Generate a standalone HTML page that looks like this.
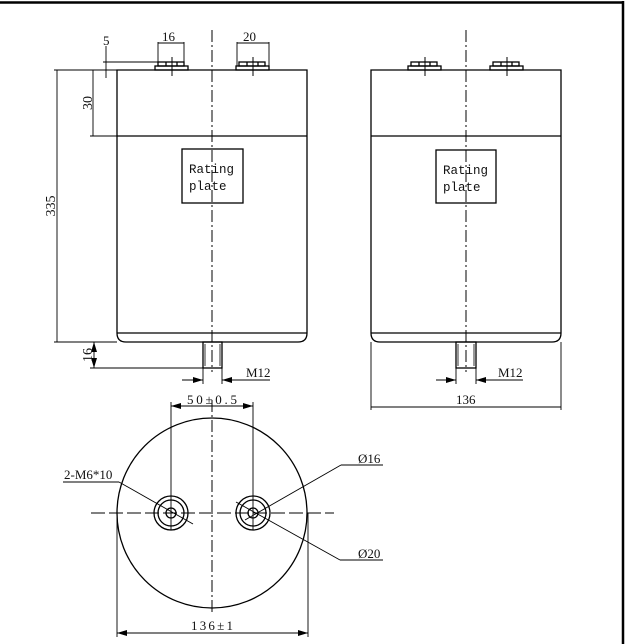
<!DOCTYPE html>
<html><head><meta charset="utf-8"><style>
html,body{margin:0;padding:0;background:#fff;}
svg{display:block;}
text{font-family:"Liberation Serif",serif;fill:#111;}
.m{font-family:"Liberation Mono",monospace;}
</style></head><body>
<svg width="628" height="644" viewBox="0 0 628 644" xmlns="http://www.w3.org/2000/svg">
<defs>
<marker id="a" viewBox="0 0 10 6" refX="10" refY="3" markerWidth="10" markerHeight="6" orient="auto-start-reverse" markerUnits="userSpaceOnUse"><path d="M0,0 L10,3 L0,6 z" fill="#000"/></marker>
</defs>
<line x1="0" y1="2.5" x2="624" y2="2.5" stroke="#000" stroke-width="2.5"/>
<line x1="623" y1="1" x2="623" y2="644" stroke="#000" stroke-width="2.5"/>

<g fill="none" stroke="#000" stroke-width="1.3">
<path d="M117,70 H307 V333 Q307,342 298,342 H126 Q117,342 117,333 Z"/>
<line x1="117" y1="136" x2="307" y2="136"/>
<line x1="117" y1="333" x2="307" y2="333"/>
<rect x="182" y="149" width="61" height="54"/>
<g><rect x="155" y="66" width="33" height="4"/><rect x="158" y="62" width="26" height="4"/><line x1="166" y1="62" x2="166" y2="66"/><line x1="177" y1="62" x2="177" y2="66"/></g>
<g transform="translate(81,0)"><rect x="155" y="66" width="33" height="4"/><rect x="158" y="62" width="26" height="4"/><line x1="166" y1="62" x2="166" y2="66"/><line x1="177" y1="62" x2="177" y2="66"/></g>
<line x1="172" y1="57" x2="172" y2="76" stroke-width="1"/>
<line x1="253" y1="57" x2="253" y2="76" stroke-width="1"/>
<rect x="203" y="342" width="19" height="26"/>
<line x1="205" y1="344" x2="205" y2="366" stroke-width="0.8"/><line x1="220" y1="344" x2="220" y2="366" stroke-width="0.8"/>
<line x1="212" y1="30" x2="212" y2="372" stroke-width="1" stroke-dasharray="12,3,2,3"/>
<g stroke-width="0.9">
<line x1="54" y1="70" x2="117" y2="70"/>
<line x1="54" y1="342" x2="117" y2="342"/>
<line x1="57" y1="70" x2="57" y2="342"/>
<line x1="90" y1="136" x2="117" y2="136"/>
<line x1="93" y1="70" x2="93" y2="136"/>
<line x1="90" y1="368" x2="203" y2="368"/>
<line x1="94" y1="342" x2="94" y2="368" marker-start="url(#a)" marker-end="url(#a)"/>
<line x1="106" y1="46" x2="106" y2="78"/>
<line x1="103" y1="62" x2="158" y2="62"/>
<line x1="158" y1="42" x2="158" y2="62"/><line x1="184" y1="42" x2="184" y2="62"/>
<line x1="158" y1="43" x2="184" y2="43"/>
<line x1="237" y1="42" x2="237" y2="66"/><line x1="269" y1="42" x2="269" y2="66"/>
<line x1="237" y1="43" x2="269" y2="43"/>
<line x1="182" y1="380" x2="203" y2="380" marker-end="url(#a)"/>
<line x1="270" y1="380" x2="222" y2="380" marker-end="url(#a)"/>
<line x1="203" y1="368" x2="203" y2="384"/><line x1="222" y1="368" x2="222" y2="384"/>
</g>

<path d="M371,70 H561 V333 Q561,342 552,342 H380 Q371,342 371,333 Z"/>
<line x1="371" y1="136" x2="561" y2="136"/>
<line x1="371" y1="333" x2="561" y2="333"/>
<rect x="436" y="150" width="60" height="53"/>
<g transform="translate(253,0)"><rect x="155" y="66" width="33" height="4"/><rect x="158" y="62" width="26" height="4"/><line x1="166" y1="62" x2="166" y2="66"/><line x1="177" y1="62" x2="177" y2="66"/></g>
<g transform="translate(335,0)"><rect x="155" y="66" width="33" height="4"/><rect x="158" y="62" width="26" height="4"/><line x1="166" y1="62" x2="166" y2="66"/><line x1="177" y1="62" x2="177" y2="66"/></g>
<line x1="425" y1="57" x2="425" y2="76" stroke-width="1"/>
<line x1="507" y1="57" x2="507" y2="76" stroke-width="1"/>
<rect x="456" y="342" width="20" height="26"/>
<line x1="458" y1="344" x2="458" y2="366" stroke-width="0.8"/><line x1="474" y1="344" x2="474" y2="366" stroke-width="0.8"/>
<line x1="466" y1="30" x2="466" y2="372" stroke-width="1" stroke-dasharray="12,3,2,3"/>
<g stroke-width="0.9">
<line x1="371" y1="342" x2="371" y2="410"/><line x1="561" y1="342" x2="561" y2="410"/>
<line x1="371" y1="407" x2="561" y2="407"/>
<line x1="436" y1="380" x2="456" y2="380" marker-end="url(#a)"/>
<line x1="523" y1="380" x2="476" y2="380" marker-end="url(#a)"/>
<line x1="456" y1="368" x2="456" y2="384"/><line x1="476" y1="368" x2="476" y2="384"/>
</g>

<circle cx="212" cy="513" r="95"/>
<circle cx="171" cy="513" r="17"/><circle cx="171" cy="513" r="13"/><circle cx="171" cy="513" r="5"/>
<circle cx="253" cy="513" r="17"/><circle cx="253" cy="513" r="13"/><circle cx="253" cy="513" r="5"/>
<line x1="91" y1="513" x2="334" y2="513" stroke-width="1" stroke-dasharray="14,4"/>
<line x1="212" y1="400" x2="212" y2="612" stroke-width="1" stroke-dasharray="12,3,2,3"/>
<g stroke-width="0.9">
<line x1="171" y1="402" x2="171" y2="530"/><line x1="253" y1="402" x2="253" y2="530"/>
<line x1="171" y1="406" x2="253" y2="406" marker-start="url(#a)" marker-end="url(#a)"/>
<line x1="117" y1="513" x2="117" y2="637"/><line x1="308" y1="513" x2="308" y2="637"/>
<line x1="117" y1="633" x2="308" y2="633" marker-start="url(#a)" marker-end="url(#a)"/>
<line x1="63" y1="482" x2="119" y2="482"/>
<line x1="119" y1="482" x2="193" y2="524"/>
<line x1="341" y1="465" x2="383" y2="465"/>
<line x1="341" y1="465" x2="245" y2="520"/>
<line x1="340" y1="560" x2="383" y2="560"/>
<line x1="340" y1="560" x2="236" y2="502"/>
</g>
</g>

<g font-size="13">
<text x="103" y="45">5</text>
<text x="162" y="41">16</text>
<text x="243" y="41">20</text>
<text x="92" y="103" transform="rotate(-90 92 103)" text-anchor="middle" font-size="14">30</text>
<text x="55" y="206" transform="rotate(-90 55 206)" text-anchor="middle" font-size="14">335</text>
<text x="92" y="355" transform="rotate(-90 92 355)" text-anchor="middle" font-size="14">16</text>
<text class="m" x="189" y="173" font-size="12.5">Rating</text>
<text class="m" x="189" y="190" font-size="12.5">plate</text>
<text class="m" x="443" y="174" font-size="12.5">Rating</text>
<text class="m" x="443" y="191" font-size="12.5">plate</text>
<text x="246" y="377">M12</text>
<text x="498" y="377">M12</text>
<text x="456" y="404">136</text>
<text x="187" y="404" textLength="50" lengthAdjust="spacing">50±0.5</text>
<text x="64" y="479">2-M6*10</text>
<text x="358" y="463">Ø16</text>
<text x="358" y="558">Ø20</text>
<text x="191" y="630" textLength="42" lengthAdjust="spacing">136±1</text>
</g>
</svg>
</body></html>
